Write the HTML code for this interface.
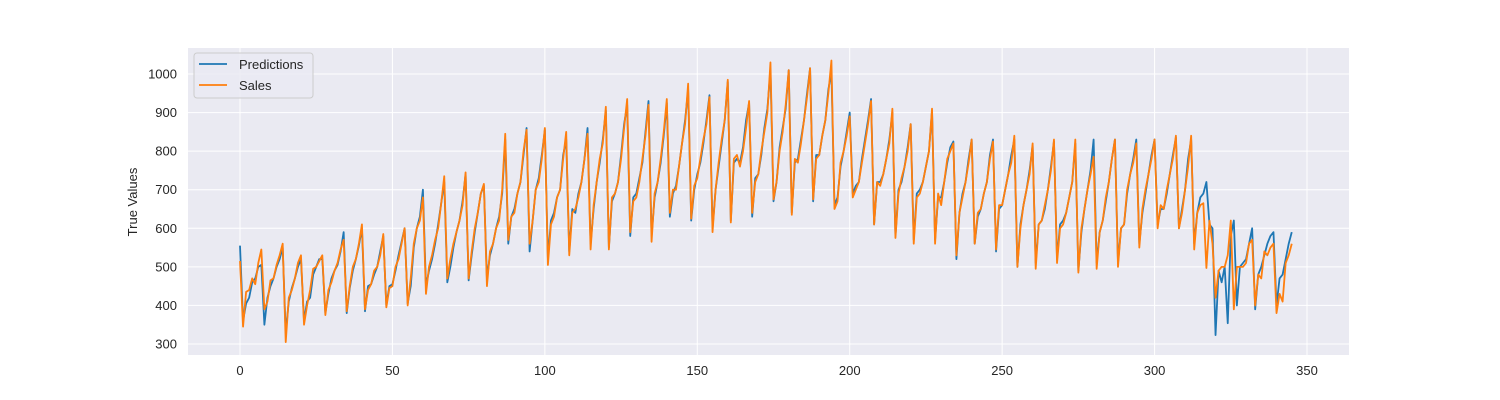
<!DOCTYPE html>
<html><head><meta charset="utf-8">
<style>
html,body{margin:0;padding:0;background:#fff;}
svg{display:block;font-family:"Liberation Sans","DejaVu Sans",sans-serif;}
</style></head>
<body>
<svg id="chart" width="1500" height="400" xmlns="http://www.w3.org/2000/svg">
  <rect x="188" y="48" width="1161" height="307" fill="#eaeaf2"/>
  <g id="grid"></g>
  <g id="xticks"></g>
  <g id="yticks"></g>
  <text x="137" y="202" transform="rotate(-90 137 202)" text-anchor="middle" font-size="13" fill="#262626">True Values</text>
  <g id="series"></g>
  <g>
    <rect x="194" y="53" width="119" height="45" rx="3" fill="#eaeaf2" fill-opacity="0.8" stroke="#cccccc"/>
    <g>
      <line x1="199" y1="64" x2="227" y2="64" stroke="#1f77b4" stroke-width="1.8"/>
      <text x="239" y="69" font-size="13" fill="#262626">Predictions</text>
    </g>
    <g>
      <line x1="199" y1="85" x2="227" y2="85" stroke="#ff7f0e" stroke-width="1.8"/>
      <text x="239" y="90" font-size="13" fill="#262626">Sales</text>
    </g>
  </g>
</svg>
<script>
const xTicks = [0,50,100,150,200,250,300,350];
const yTicks = [300,400,500,600,700,800,900,1000];
const sales = [515,
345,435,440,470,455,510,545,
390,410,465,470,505,530,560,
305,420,440,470,510,530,
350,400,440,495,500,515,530,
375,440,460,490,510,545,570,
385,450,500,520,560,610,
390,440,455,490,500,530,585,
395,445,450,500,520,560,600,
400,470,560,600,620,680,
430,500,530,570,600,665,735,
470,520,560,590,620,660,745,
470,540,600,640,690,715,
450,540,560,600,620,700,845,
570,630,640,690,720,800,855,
560,620,700,720,780,860,
505,610,630,680,700,780,850,
530,640,650,680,720,780,845,
545,660,720,780,820,915,
545,680,690,720,780,860,935,
590,670,680,720,780,840,920,
565,690,720,780,850,935,
640,700,700,760,820,870,975,
625,710,730,780,830,870,940,
590,700,770,830,880,985,
615,780,790,760,800,860,930,
640,720,740,800,850,900,1030,
675,720,800,850,920,1010,
635,780,770,820,880,940,1015,
675,780,790,840,880,950,1035,
650,670,770,800,840,890,
680,700,720,770,820,870,930,
610,720,710,740,780,820,910,
575,690,730,760,800,870,
560,680,690,720,760,800,910,
560,690,660,720,780,800,820,
530,640,680,720,770,830,
560,640,650,690,720,780,825,
545,660,660,700,740,770,840,
500,600,660,700,740,820,
495,610,620,660,700,750,830,
510,600,610,640,680,720,830,
485,600,650,700,740,785,
495,590,620,680,720,780,830,
500,600,610,700,740,770,820,
550,650,700,740,780,830,
600,660,650,700,740,780,840,
600,640,700,760,840,545,640,660,665,497,
620,560,420,490,500,500,530,620,390,500,
500,500,510,560,570,400,480,470,540,530,
550,560,380,430,410,510,530,560];
const predictions = [555,
360,405,420,460,470,500,505,
350,420,450,470,500,520,550,
330,410,445,470,500,520,
360,410,420,480,500,520,520,
380,430,470,490,505,540,590,
380,445,490,520,555,600,
385,450,455,480,500,540,580,
400,450,455,490,530,565,600,
405,450,550,600,630,700,
450,490,520,560,610,665,720,
460,500,550,590,620,670,740,
465,530,590,640,690,710,
470,530,560,600,630,690,830,
560,630,650,690,720,790,860,
540,620,700,730,790,855,
520,620,640,680,700,790,830,
540,650,640,690,720,780,860,
560,650,720,770,830,905,
550,670,690,720,790,870,920,
580,680,690,730,770,850,930,
580,680,720,770,840,925,
630,690,710,760,820,880,960,
620,700,740,770,820,880,945,
600,700,760,820,880,980,
620,770,780,770,810,880,925,
630,730,740,790,860,910,1010,
670,720,810,860,910,1010,
640,770,780,830,880,950,1015,
670,790,790,840,880,960,1005,
660,680,760,800,850,900,
690,710,720,780,830,880,935,
610,720,720,740,780,830,900,
580,700,720,760,810,870,
570,690,700,720,760,800,905,
570,680,680,720,770,810,825,
520,640,690,720,780,830,
560,630,650,690,720,790,830,
540,650,660,700,740,790,830,
500,610,660,700,750,815,
510,610,620,650,700,760,825,
520,610,620,640,680,720,820,
490,590,650,700,750,830,
510,590,620,670,720,780,830,
510,600,610,690,740,780,830,
560,640,690,740,790,830,
610,650,650,690,740,790,835,
600,650,700,780,830,560,640,680,690,720,
610,600,323,490,460,500,354,580,620,400,
500,510,520,560,600,390,480,500,530,560,
580,590,400,470,480,520,560,590];

const NS = "http://www.w3.org/2000/svg";
function xs(d){ return 240 + d * (1307 - 240) / 350; }
function ys(v){ return 344 - (v - 300) * (344 - 74) / 700; }
const grid = document.getElementById('grid');
const xt = document.getElementById('xticks');
const yt = document.getElementById('yticks');
xTicks.forEach(function(t){
  const l = document.createElementNS(NS,'line');
  l.setAttribute('x1', xs(t)); l.setAttribute('x2', xs(t));
  l.setAttribute('y1', 48); l.setAttribute('y2', 355);
  l.setAttribute('stroke', '#fff'); l.setAttribute('stroke-width', '1');
  
  
  grid.appendChild(l);
  const tx = document.createElementNS(NS,'text');
  tx.setAttribute('x', xs(t)); tx.setAttribute('y', 375);
  tx.setAttribute('text-anchor', 'middle'); tx.setAttribute('font-size', '13'); tx.setAttribute('fill', '#262626');
  tx.textContent = t;
  
  
  xt.appendChild(tx);
});
yTicks.forEach(function(t){
  const l = document.createElementNS(NS,'line');
  l.setAttribute('x1', 188); l.setAttribute('x2', 1349);
  l.setAttribute('y1', ys(t)); l.setAttribute('y2', ys(t));
  l.setAttribute('stroke', '#fff'); l.setAttribute('stroke-width', '1');
  
  
  grid.appendChild(l);
  const tx = document.createElementNS(NS,'text');
  tx.setAttribute('x', 177); tx.setAttribute('y', ys(t) + 4.5);
  tx.setAttribute('text-anchor', 'end'); tx.setAttribute('font-size', '13'); tx.setAttribute('fill', '#262626');
  tx.textContent = t;
  
  
  yt.appendChild(tx);
});
function drawLine(vals, color, name){
  const p = document.createElementNS(NS,'path');
  let d = '';
  vals.forEach(function(v,i){ d += (i ? 'L' : 'M') + xs(i).toFixed(2) + ' ' + ys(v).toFixed(2); });
  p.setAttribute('d', d);
  p.setAttribute('fill', 'none'); p.setAttribute('stroke', color);
  p.setAttribute('stroke-width', '1.8'); p.setAttribute('stroke-linejoin', 'round');
  
  
  document.getElementById('series').appendChild(p);
}
drawLine(predictions, '#1f77b4', 'predictions-line');
drawLine(sales, '#ff7f0e', 'sales-line');
</script>
</body></html>
